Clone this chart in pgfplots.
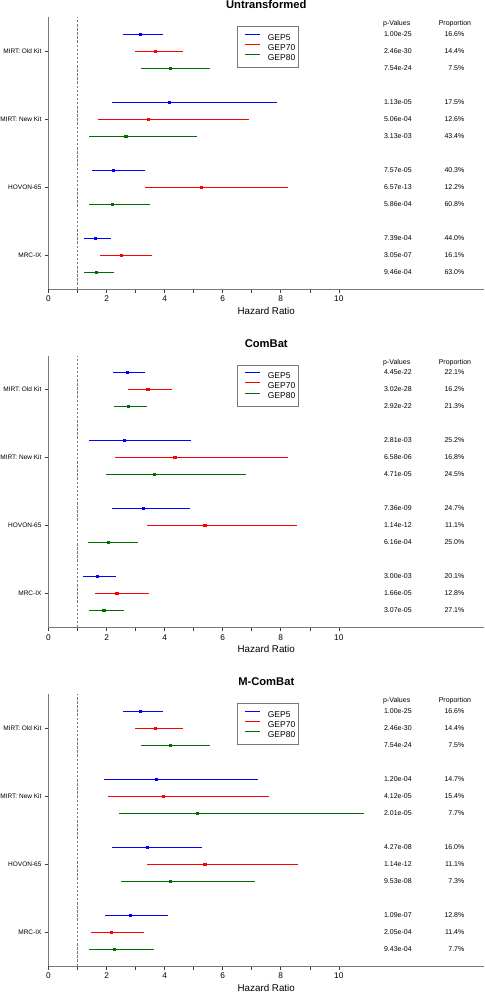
\documentclass[border=0pt]{standalone}
\usepackage{fontspec}
\setmainfont{Liberation Sans}
\usepackage{pgfplots}
\pgfplotsset{compat=1.18}
\usepackage{pgfplotstable}

\definecolor{cblue}{RGB}{0,0,255}
\definecolor{cred}{RGB}{255,0,0}
\definecolor{cgreen}{RGB}{0,110,0}
\definecolor{axgray}{RGB}{120,120,120}
\definecolor{tickc}{RGB}{60,60,60}

% columns: yc = group centre; GEP5 at yc+1, GEP70 at yc, GEP80 at yc-1
\pgfplotstableread{
yc lo5 hr5 hi5 lo70 hr70 hi70 lo80 hr80 hi80
14 2.55 3.15 3.93 2.97 3.68 4.64 3.18 4.19 5.56
10 2.20 4.16 7.87 1.72 3.44 6.92 1.40 2.66 5.11
6  1.50 2.23 3.34 3.34 5.25 8.25 1.40 2.20 3.49
2  1.23 1.62 2.15 1.77 2.50 3.58 1.23 1.65 2.24
}\tabU
\pgfplotstableread{
yc lo5 hr5 hi5 lo70 hr70 hi70 lo80 hr80 hi80
14 2.22 2.72 3.34 2.75 3.42 4.26 2.25 2.74 3.39
10 1.40 2.61 4.91 2.30 4.35 8.26 1.97 3.65 6.80
6  2.20 3.27 4.88 3.40 5.38 8.57 1.37 2.05 3.07
2  1.20 1.67 2.33 1.60 2.35 3.45 1.41 1.90 2.59
}\tabC
\pgfplotstableread{
yc lo5 hr5 hi5 lo70 hr70 hi70 lo80 hr80 hi80
14 2.55 3.15 3.93 2.97 3.68 4.64 3.18 4.19 5.56
10 1.90 3.70 7.21 2.05 3.94 7.59 2.43 5.13 10.86
6  2.20 3.41 5.28 3.39 5.38 8.58 2.49 4.20 7.12
2  1.94 2.81 4.12 1.45 2.17 3.28 1.41 2.25 3.63
}\tabM

\tikzset{
  pvs/.style={anchor=west, font=\fontsize{7}{8}\selectfont, inner sep=0pt},
  prs/.style={anchor=east, font=\fontsize{7}{8}\selectfont, inner sep=0pt},
}

\pgfplotsset{
  forest/.style={
    scale only axis, width=435.5pt, height=272pt,
    anchor=north west,
    xmin=0, xmax=15, ymin=0, ymax=16,
    clip=false,
    axis lines=left,
    axis line style={-, draw=axgray, line width=0.7pt},
    tick align=outside,
    major tick length=3.5pt,
    tick style={draw=tickc, line width=0.6pt},
    xtick={0,1,2,3,4,5,6,7,8,9,10},
    xticklabels={0,{},2,{},4,{},6,{},8,{},10},
    ytick={14,10,6,2},
    yticklabels={{MIRT: Old Kit},{MIRT: New Kit},{HOVON-65},{MRC-IX}},
    /pgf/number format/assume math mode=true,
    xticklabel style={font=\fontsize{8.3}{9}\selectfont},
    yticklabel style={font=\fontsize{6.5}{7}\selectfont},
    xlabel={Hazard Ratio},
    every axis x label/.style={at={(axis description cs:0.5,0)}, anchor=center, yshift=-21.8pt, font=\fontsize{9.8}{11}\selectfont},
    every axis title/.style={at={(axis description cs:0.5,1)}, anchor=center, yshift=12pt, font=\bfseries\fontsize{11.2}{13}\selectfont},
    legend style={at={(axis cs:6.5,15.45)}, anchor=north west,
      draw=axgray, line width=0.7pt,
      font=\fontsize{8.5}{10}\selectfont,
      inner xsep=3pt, inner ysep=7pt,
      nodes={inner sep=0pt, text height=6pt, text depth=0pt},
      row sep=3.8pt, column sep=0pt},
    legend cell align=left,
    legend image code/.code={\path (0pt,0pt); \draw[#1, line width=0.7pt] (4.3pt,3pt) -- (19.3pt,3pt); \path (26.6pt,0pt);},
  },
  ci/.style={only marks, mark=square*, mark size=1.1pt, forget plot,
    mark options={draw=#1, fill=#1},
    error bars/.cd, x dir=both, x explicit, error mark=none,
    error bar style={line width=0.65pt, draw=#1}},
}

\newcommand{\pv}[3]{\node[pvs] at (axis cs:11.55,#1) {#2};\node[prs] at (axis cs:14.33,#1) {#3};}
\newcommand{\hdr}{\node[pvs] at (axis cs:11.52,15.59) {p-Values};\node[anchor=center, font=\fontsize{7}{8}\selectfont, inner sep=0pt] at (axis cs:14.0,15.59) {Proportion};}
\newcommand{\series}[1]{%
  \addplot[draw=axgray, dash pattern=on 2.5pt off 1.6pt, line width=0.5pt, forget plot] coordinates {(1,0) (1,16)};
  \addplot[ci=cblue] table[x=hr5, y expr=\thisrow{yc}+1, x error plus expr=\thisrow{hi5}-\thisrow{hr5}, x error minus expr=\thisrow{hr5}-\thisrow{lo5}] {#1};
  \addplot[ci=cred] table[x=hr70, y=yc, x error plus expr=\thisrow{hi70}-\thisrow{hr70}, x error minus expr=\thisrow{hr70}-\thisrow{lo70}] {#1};
  \addplot[ci=cgreen] table[x=hr80, y expr=\thisrow{yc}-1, x error plus expr=\thisrow{hi80}-\thisrow{hr80}, x error minus expr=\thisrow{hr80}-\thisrow{lo80}] {#1};
  \addlegendimage{draw=cblue}\addlegendentry{GEP5}
  \addlegendimage{draw=cred}\addlegendentry{GEP70}
  \addlegendimage{draw=cgreen}\addlegendentry{GEP80}
}

\begin{document}
\begin{tikzpicture}
\useasboundingbox (0,0) rectangle (484pt,-992pt);

\begin{axis}[forest, at={(48.5pt,-17pt)}, title={Untransformed}]
\series{\tabU}
\hdr
\pv{15}{1.00e-25}{16.6\%}
\pv{14}{2.46e-30}{14.4\%}
\pv{13}{7.54e-24}{7.5\%}
\pv{11}{1.13e-05}{17.5\%}
\pv{10}{5.06e-04}{12.6\%}
\pv{9}{3.13e-03}{43.4\%}
\pv{7}{7.57e-05}{40.3\%}
\pv{6}{6.57e-13}{12.2\%}
\pv{5}{5.86e-04}{60.8\%}
\pv{3}{7.39e-04}{44.0\%}
\pv{2}{3.05e-07}{16.1\%}
\pv{1}{9.46e-04}{63.0\%}
\end{axis}

\begin{axis}[forest, at={(48.5pt,-355.5pt)}, title={ComBat}]
\series{\tabC}
\hdr
\pv{15}{4.45e-22}{22.1\%}
\pv{14}{3.02e-28}{16.2\%}
\pv{13}{2.92e-22}{21.3\%}
\pv{11}{2.81e-03}{25.2\%}
\pv{10}{6.58e-06}{16.8\%}
\pv{9}{4.71e-05}{24.5\%}
\pv{7}{7.36e-09}{24.7\%}
\pv{6}{1.14e-12}{11.1\%}
\pv{5}{6.16e-04}{25.0\%}
\pv{3}{3.00e-03}{20.1\%}
\pv{2}{1.66e-05}{12.8\%}
\pv{1}{3.07e-05}{27.1\%}
\end{axis}

\begin{axis}[forest, at={(48.5pt,-694pt)}, title={M-ComBat}]
\series{\tabM}
\hdr
\pv{15}{1.00e-25}{16.6\%}
\pv{14}{2.46e-30}{14.4\%}
\pv{13}{7.54e-24}{7.5\%}
\pv{11}{1.20e-04}{14.7\%}
\pv{10}{4.12e-05}{15.4\%}
\pv{9}{2.01e-05}{7.7\%}
\pv{7}{4.27e-08}{16.0\%}
\pv{6}{1.14e-12}{11.1\%}
\pv{5}{9.53e-08}{7.3\%}
\pv{3}{1.09e-07}{12.8\%}
\pv{2}{2.05e-04}{11.4\%}
\pv{1}{9.43e-04}{7.7\%}
\end{axis}
\end{tikzpicture}
\end{document}
